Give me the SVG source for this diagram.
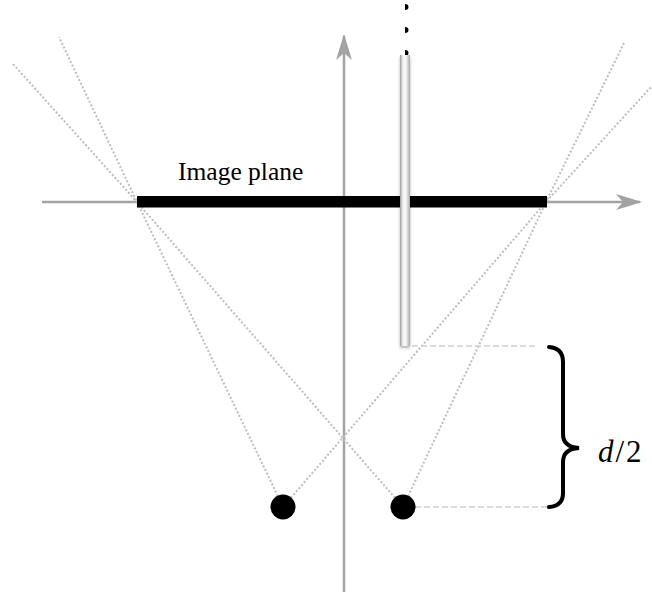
<svg xmlns="http://www.w3.org/2000/svg" width="652" height="592" viewBox="0 0 652 592">
<style>
.axis{stroke:#a3a3a3;stroke-width:2.5;fill:none}
.ray{stroke:#bdbdbd;stroke-width:2;stroke-dasharray:2 2;fill:none}
.dash{stroke:#cfcfcf;stroke-width:1.6;stroke-dasharray:6 3;fill:none}
.lbl{font-family:"Liberation Serif","Times New Roman",serif;fill:#000}
</style>
<defs>
<marker id="ah" viewBox="0 0 26 16" refX="24" refY="8" markerWidth="26" markerHeight="16" markerUnits="userSpaceOnUse" orient="auto">
<path d="M0,0 L26,8 L0,16 L7,8 Z" fill="#a3a3a3"/>
</marker>
<linearGradient id="cyl" x1="0" y1="0" x2="1" y2="0">
<stop offset="0" stop-color="#9a9a9a"/>
<stop offset="0.25" stop-color="#e6e6e6"/>
<stop offset="0.5" stop-color="#ffffff"/>
<stop offset="0.8" stop-color="#d0d0d0"/>
<stop offset="1" stop-color="#a8a8a8"/>
</linearGradient>
<filter id="sh" x="-100%" y="-5%" width="300%" height="110%">
<feDropShadow dx="0" dy="2" stdDeviation="1.5" flood-color="#000" flood-opacity="0.3"/>
</filter>
</defs>
<g id="connectors">
<line class="axis" x1="42" y1="202" x2="640" y2="202" marker-end="url(#ah)"/>
<line class="axis" x1="344" y1="592" x2="344" y2="36" marker-end="url(#ah)"/>
<polyline class="ray" points="283,507 137,202 59,37"/>
<polyline class="ray" points="403,507 137,202 13,64"/>
<polyline class="ray" points="403,507 546,202 625,41"/>
<polyline class="ray" points="283,507 546,202 651,87"/>
<line class="dash" x1="412" y1="346" x2="538" y2="346"/>
<line class="dash" x1="415" y1="507" x2="548" y2="507"/>
</g>
<g id="image-plane">
<rect x="137" y="196" width="410" height="11.5" fill="#000"/>
<text class="lbl" x="178" y="180" font-size="25.5">Image plane</text>
</g>
<g id="rod">
<path d="M405,4 a3.5,3 0 0 1 0,6 Z" fill="#000"/>
<path d="M405,27 a3.5,3 0 0 1 0,6 Z" fill="#000"/>
<path d="M405,50 a3.5,3 0 0 1 0,6 Z" fill="#000"/>
<rect x="400" y="55" width="10" height="291" fill="url(#cyl)" filter="url(#sh)"/>
</g>
<g id="point-left">
<circle cx="283" cy="507" r="12.5" fill="#000"/>
</g>
<g id="point-right">
<circle cx="403" cy="507" r="12.5" fill="#000"/>
</g>
<g id="brace">
<path d="M549,347 Q563,348 563,362 L563,434 Q563,447 579,448 Q563,449 563,462 L563,493 Q563,506 549,507" fill="none" stroke="#000" stroke-width="4" stroke-linecap="round"/>
<text class="lbl" x="598" y="462" font-size="31" letter-spacing="2"><tspan font-style="italic">d</tspan>/2</text>
</g>
</svg>
